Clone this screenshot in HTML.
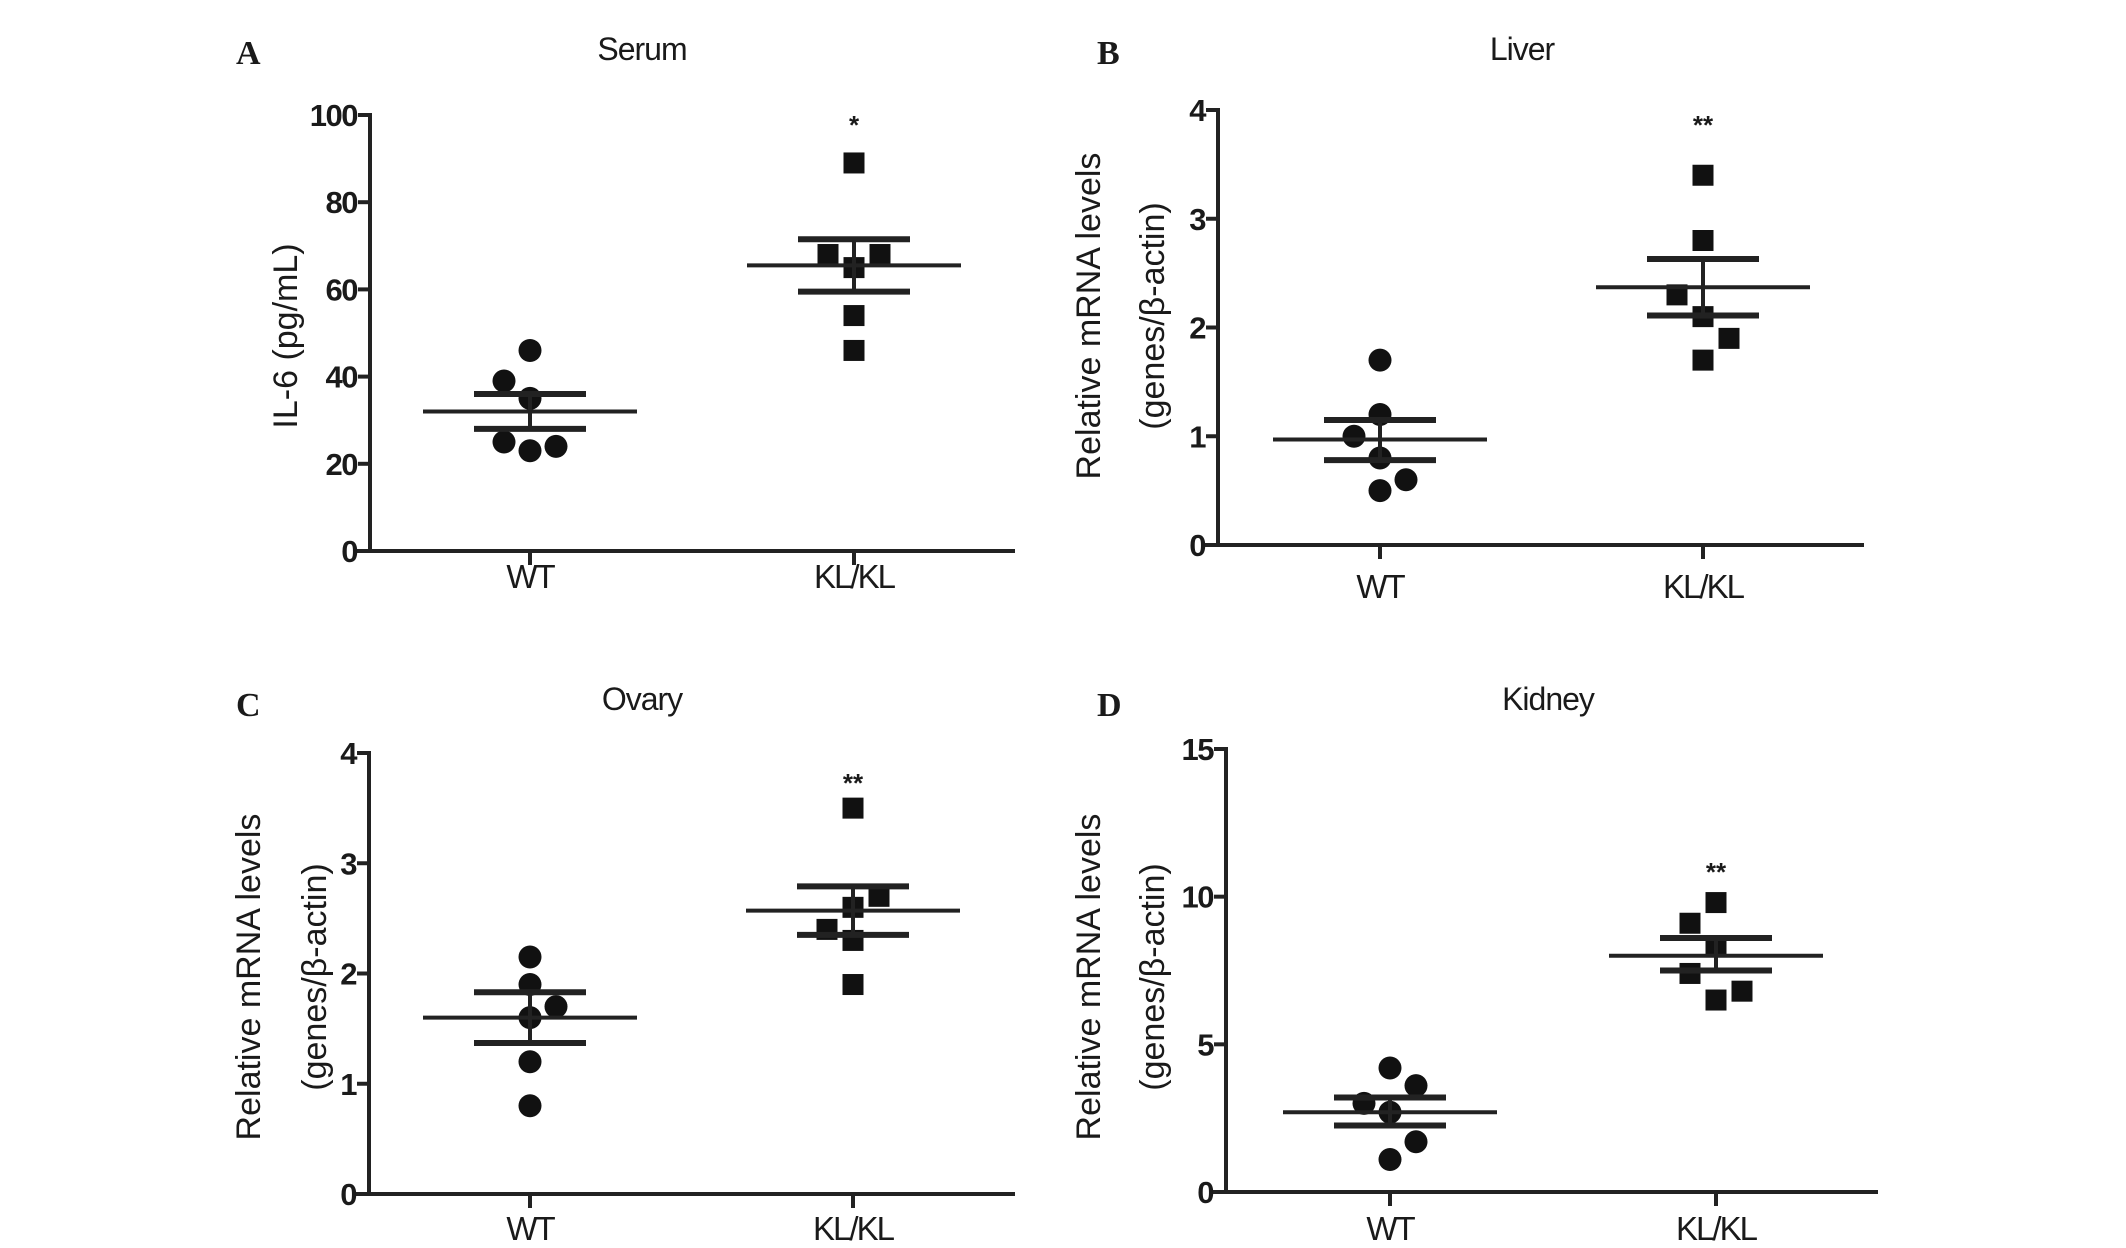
<!DOCTYPE html>
<html><head><meta charset="utf-8"><style>
html,body{margin:0;padding:0;background:#fff}
svg text{font-family:"Liberation Sans",sans-serif;fill:#1a1a1a}
</style></head><body>
<svg id="fig" width="2126" height="1243" viewBox="0 0 2126 1243" xmlns="http://www.w3.org/2000/svg"></svg>
<script>
const categories = ["WT","KL/KL"];
const serumWT = [46,39,35,25,23,24];
const serumKL = [89,68,68,65,54,46];
const serumStats = [[32,36,28],[65.5,71.5,59.5]];
const liverWT = [1.7,1.2,1.0,0.8,0.6,0.5];
const liverKL = [3.4,2.8,2.3,2.1,1.9,1.7];
const liverStats = [[0.97,1.15,0.78],[2.37,2.63,2.11]];
const ovaryWT = [2.15,1.9,1.7,1.6,1.2,0.8];
const ovaryKL = [3.5,2.7,2.6,2.4,2.3,1.9];
const ovaryStats = [[1.6,1.83,1.37],[2.57,2.79,2.35]];
const kidneyWT = [4.2,3.6,3.0,2.7,1.7,1.1];
const kidneyKL = [9.8,9.1,8.3,7.4,6.8,6.5];
const kidneyStats = [[2.7,3.2,2.25],[8.0,8.6,7.5]];
const serumTicks = [0,20,40,60,80,100];
const liverTicks = [0,1,2,3,4];
const ovaryTicks = [0,1,2,3,4];
const kidneyTicks = [0,5,10,15];
const stars = ["*","**","**","**"];

const jit = {
  A:[[0,-1,0,-1,0,1],[0,-1,1,0,0,0]],
  B:[[0,0,-1,0,1,0],[0,0,-1,0,1,0]],
  C:[[0,0,1,0,0,0],[0,1,0,-1,0,0]],
  D:[[0,1,-1,0,1,0],[0,-1,0,-1,1,0]]
};
const panels = [
 {id:"A",title:"Serum",wt:serumWT,kl:serumKL,st:serumStats,ticks:serumTicks,max:100,ax:370,xend:1015,y0:551,ytop:115,cx:[530,854],ttl:[642,50],lbl:[236,64],ytitle:["IL-6 (pg/mL)"],ytx:[297],yty:336,cat:588,star:stars[0],sy:134},
 {id:"B",title:"Liver",wt:liverWT,kl:liverKL,st:liverStats,ticks:liverTicks,max:4,ax:1218,xend:1864,y0:545,ytop:110,cx:[1380,1703],ttl:[1522,50],lbl:[1097,64],ytitle:["Relative mRNA levels","(genes/β-actin)"],ytx:[1100,1164],yty:316,cat:598,star:stars[1],sy:134},
 {id:"C",title:"Ovary",wt:ovaryWT,kl:ovaryKL,st:ovaryStats,ticks:ovaryTicks,max:4,ax:369,xend:1015,y0:1194,ytop:753,cx:[530,853],ttl:[642,700],lbl:[236,716],ytitle:["Relative mRNA levels","(genes/β-actin)"],ytx:[260,326],yty:977,cat:1240,star:stars[2],sy:792},
 {id:"D",title:"Kidney",wt:kidneyWT,kl:kidneyKL,st:kidneyStats,ticks:kidneyTicks,max:15,ax:1226,xend:1878,y0:1192,ytop:749,cx:[1390,1716],ttl:[1548,700],lbl:[1097,716],ytitle:["Relative mRNA levels","(genes/β-actin)"],ytx:[1100,1164],yty:977,cat:1240,star:stars[3],sy:881}
];
const NS="http://www.w3.org/2000/svg";
const svg=document.getElementById("fig");
function mk(tag,attrs,parent){const e=document.createElementNS(NS,tag);for(const k in attrs)e.setAttribute(k,attrs[k]);(parent||svg).appendChild(e);return e;}
panels.forEach(p=>{
  const g=mk("g",{});
  
  
  const yS=v=>p.y0-(v/p.max)*(p.y0-p.ytop);
  const t=mk("text",{x:p.lbl[0],y:p.lbl[1],"font-size":34,"font-weight":"bold","style":"font-family:'Liberation Serif',serif"},g);t.textContent=p.id;
  
  
  const ti=mk("text",{x:p.ttl[0],y:p.ttl[1]+10,"font-size":32,"text-anchor":"middle","letter-spacing":"-1"},g);ti.textContent=p.title;
  
  
  const ya=mk("line",{x1:p.ax,y1:p.ytop-2,x2:p.ax,y2:p.y0,stroke:"#222","stroke-width":4},g);
  
  
  const xa=mk("line",{x1:p.ax-14,y1:p.y0,x2:p.xend,y2:p.y0,stroke:"#222","stroke-width":4},g);
  
  
  p.ticks.forEach(v=>{
    const y=yS(v);
    mk("line",{x1:p.ax-12,y1:y,x2:p.ax,y2:y,stroke:"#222","stroke-width":4},g);
    const tl=mk("text",{x:p.ax-13,y:y+11,"font-size":31,"font-weight":"bold","text-anchor":"end","letter-spacing":"-1.5"},g);tl.textContent=v;
    
    
  });
  p.ytitle.forEach((s,i)=>{
    const yt=mk("text",{x:p.ytx[i],y:p.yty,"font-size":34,"text-anchor":"middle",transform:`rotate(-90 ${p.ytx[i]} ${p.yty})`},g);yt.textContent=s;
    
    
  });
  const series=[p.wt,p.kl];
  series.forEach((vals,si)=>{
    const cx=p.cx[si];
    mk("line",{x1:cx,y1:p.y0,x2:cx,y2:p.y0+14,stroke:"#222","stroke-width":4},g);
    const cl=mk("text",{x:cx,y:p.cat,"font-size":33,"text-anchor":"middle","letter-spacing":"-2"},g);cl.textContent=categories[si];
    
    
    vals.forEach((v,i)=>{
      const x=cx+jit[p.id][si][i]*26,y=yS(v);
      let m;
      if(si===0){m=mk("circle",{cx:x,cy:y,r:11.5,fill:"#111"},g);}
      else{m=mk("rect",{x:x-10.5,y:y-10.5,width:21,height:21,fill:"#111"},g);}
      
      
    });
    const [mean,hi,lo]=p.st[si];
    const ml=mk("line",{x1:cx-107,y1:yS(mean),x2:cx+107,y2:yS(mean),stroke:"#222","stroke-width":4},g);
    
    
    const vl=mk("line",{x1:cx,y1:yS(hi),x2:cx,y2:yS(lo),stroke:"#222","stroke-width":4},g);
    
    
    [hi,lo].forEach(v=>{
      const c=mk("line",{x1:cx-56,y1:yS(v),x2:cx+56,y2:yS(v),stroke:"#222","stroke-width":6},g);
      
      
    });
  });
  const sg=mk("text",{x:p.cx[1],y:p.sy,"font-size":26,"font-weight":"bold","text-anchor":"middle"},g);sg.textContent=p.star;
  
  
});
</script>
</body></html>
